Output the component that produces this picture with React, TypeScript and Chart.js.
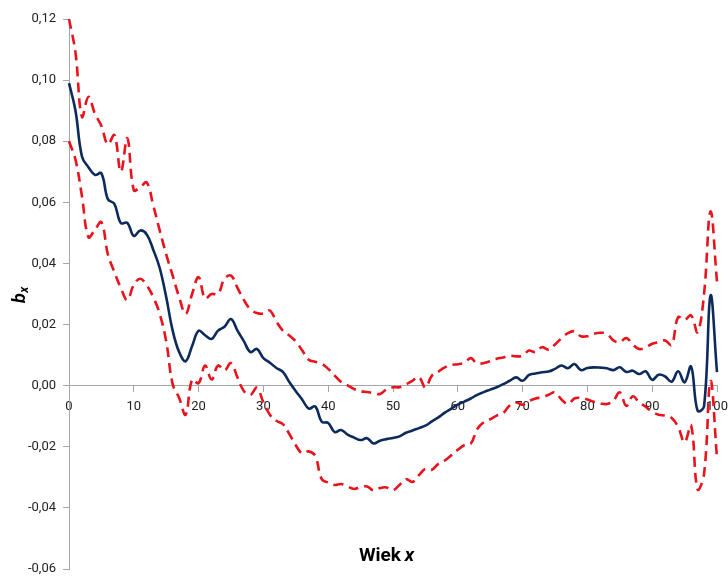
import { useEffect, useRef } from "react";
import { Chart, registerables } from "chart.js";

Chart.register(...registerables);

// Age x
const ages = [
  0, 1, 2, 3, 4, 5, 6, 7, 8, 9,
  10, 11, 12, 13, 14, 15, 16, 17, 18, 19,
  20, 21, 22, 23, 24, 25, 26, 27, 28, 29,
  30, 31, 32, 33, 34, 35, 36, 37, 38, 39,
  40, 41, 42, 43, 44, 45, 46, 47, 48, 49,
  50, 51, 52, 53, 54, 55, 56, 57, 58, 59,
  60, 61, 62, 63, 64, 65, 66, 67, 68, 69,
  70, 71, 72, 73, 74, 75, 76, 77, 78, 79,
  80, 81, 82, 83, 84, 85, 86, 87, 88, 89,
  90, 91, 92, 93, 94, 95, 96, 97, 98, 99,
  100,
];

// Estimated b_x
const bx = [
  0.099, 0.09, 0.075, 0.0715, 0.069, 0.0695, 0.061, 0.0595, 0.0532, 0.0533,
  0.049, 0.0508, 0.0495, 0.0445, 0.0385, 0.029, 0.018, 0.011, 0.008, 0.013,
  0.018, 0.0165, 0.0153, 0.018, 0.0193, 0.0218, 0.018, 0.0145, 0.011, 0.012,
  0.009, 0.0075, 0.0058, 0.0045, 0.0012, -0.0018, -0.0046, -0.0075, -0.0068, -0.0118,
  -0.0122, -0.0152, -0.0145, -0.016, -0.017, -0.0178, -0.0172, -0.0189, -0.018, -0.0175,
  -0.0171, -0.0166, -0.0154, -0.0147, -0.0139, -0.0131, -0.0117, -0.0104, -0.0088, -0.0075,
  -0.0062, -0.0052, -0.0042, -0.003, -0.0021, -0.0013, -0.0005, 0.0005, 0.0016, 0.0027,
  0.0016, 0.0035, 0.004, 0.0044, 0.0046, 0.0055, 0.0066, 0.0057, 0.0071, 0.0051,
  0.0058, 0.006, 0.0059, 0.0057, 0.0051, 0.006, 0.0045, 0.0049, 0.0038, 0.0047,
  0.0019, 0.0036, 0.003, 0.0013, 0.0047, 0.0011, 0.0063, -0.0082, -0.0068, 0.0295,
  0.0044,
];

// Upper bound of the interval
const bxUpper = [
  0.12, 0.109, 0.088, 0.0945, 0.089, 0.085, 0.079, 0.082, 0.07, 0.081,
  0.064, 0.065, 0.0665, 0.059, 0.0508, 0.043, 0.036, 0.029, 0.0235, 0.03,
  0.0355, 0.0285, 0.03, 0.03, 0.035, 0.036, 0.032, 0.028, 0.025, 0.0238,
  0.0236, 0.0246, 0.021, 0.018, 0.0164, 0.0145, 0.0115, 0.0085, 0.0078, 0.0072,
  0.0055, 0.0033, 0.0012, 0.0001, -0.0011, -0.0018, -0.0021, -0.0024, -0.0027, -0.0012,
  -0.0005, -0.0005, 0.0004, 0.0016, 0.0028, -0.0006, 0.0033, 0.0046, 0.006, 0.0068,
  0.007, 0.0075, 0.009, 0.0072, 0.0074, 0.008, 0.0088, 0.0092, 0.0098, 0.0096,
  0.0098, 0.0115, 0.011, 0.0126, 0.0118, 0.0135, 0.0155, 0.0172, 0.0178, 0.0162,
  0.0162, 0.017, 0.0173, 0.017, 0.0148, 0.0142, 0.0156, 0.0135, 0.012, 0.0125,
  0.0137, 0.0142, 0.0148, 0.0133, 0.0224, 0.0215, 0.023, 0.0175, 0.03, 0.057,
  0.034,
];

// Lower bound of the interval
const bxLower = [
  0.08, 0.074, 0.062, 0.0486, 0.051, 0.0535, 0.043, 0.0372, 0.032, 0.028,
  0.033, 0.035, 0.0328, 0.029, 0.0235, 0.0145, 0.0005, -0.004, -0.0095, 0.002,
  0.0008, 0.0066, 0.002, 0.0066, 0.005, 0.0074, 0.0027, -0.0018, -0.003, -0.0007,
  -0.0055, -0.0095, -0.0115, -0.0126, -0.0158, -0.0195, -0.0222, -0.0215, -0.023, -0.0306,
  -0.0317, -0.0325, -0.0322, -0.033, -0.0338, -0.0332, -0.033, -0.0343, -0.0335, -0.0333,
  -0.0342, -0.0325, -0.0306, -0.0315, -0.0293, -0.0272, -0.0275, -0.0256, -0.0245, -0.0228,
  -0.021, -0.0195, -0.019, -0.0142, -0.012, -0.011, -0.0098, -0.009, -0.0065, -0.0055,
  -0.0062, -0.005, -0.0042, -0.0038, -0.003, -0.0022, -0.0045, -0.006, -0.0042, -0.004,
  -0.0045, -0.0053, -0.0058, -0.006, -0.0049, -0.0022, -0.0066, -0.0035, -0.0055, -0.0069,
  -0.0085, -0.0095, -0.0098, -0.0106, -0.0135, -0.0185, -0.013, -0.0339, -0.029, 0.0015,
  -0.0236,
];

const yMin = -0.06;
const yMax = 0.12;
const yStep = 0.02;
const xMin = 0;
const xMax = 100;
const xStep = 10;

const xTitleMain = "Wiek ";
const xTitleVar = "x";
const yTitleMain = "b";
const yTitleSub = "x";

const FONT = 'Roboto, "Open Sans", Arial, sans-serif';
const NAVY = "#0c2a5b";
const RED = "#e8141d";
const AXIS = "#a6a6a6";

const toPoints = (vals: number[]) => ages.map((a, i) => ({ x: a, y: vals[i] }));

const titlesPlugin = {
  id: "axisTitles",
  afterDraw(chart: any) {
    const { ctx, chartArea } = chart;
    ctx.save();
    ctx.fillStyle = "#000";
    ctx.textBaseline = "alphabetic";
    ctx.textAlign = "left";

    // horizontal axis title
    ctx.font = `bold 19px ${FONT}`;
    const w1 = ctx.measureText(xTitleMain).width;
    ctx.font = `italic bold 19px ${FONT}`;
    const w2 = ctx.measureText(xTitleVar).width;
    const cx = (chartArea.left + chartArea.right) / 2 - 6;
    const by = chartArea.bottom - 8;
    const sx = cx - (w1 + w2) / 2;
    ctx.font = `bold 19px ${FONT}`;
    ctx.fillText(xTitleMain, sx, by);
    ctx.font = `italic bold 19px ${FONT}`;
    ctx.fillText(xTitleVar, sx + w1 - 1, by);

    // vertical axis title, rotated
    ctx.translate(25, (chartArea.top + chartArea.bottom) / 2 + 9);
    ctx.rotate(-Math.PI / 2);
    ctx.font = `italic bold 18px ${FONT}`;
    const bw = ctx.measureText(yTitleMain).width;
    ctx.fillText(yTitleMain, 0, 0);
    ctx.font = `italic bold 12px ${FONT}`;
    ctx.fillText(yTitleSub, bw + 0.5, 3);
    ctx.restore();
  },
};

export default function App() {
  const canvasRef = useRef<HTMLCanvasElement | null>(null);

  useEffect(() => {
    document.body.style.margin = "0";
    const canvas = canvasRef.current;
    if (!canvas) return;

    const chart = new Chart(canvas, {
      type: "line",
      data: {
        datasets: [
          {
            label: "bx",
            data: toPoints(bx),
            borderColor: NAVY,
            borderWidth: 2.6,
            pointRadius: 0,
            tension: 0.4,
            fill: false,
          },
          {
            label: "upper",
            data: toPoints(bxUpper),
            borderColor: RED,
            borderWidth: 2.6,
            borderDash: [10, 6],
            pointRadius: 0,
            tension: 0.4,
            fill: false,
          },
          {
            label: "lower",
            data: toPoints(bxLower),
            borderColor: RED,
            borderWidth: 2.6,
            borderDash: [10, 6],
            pointRadius: 0,
            tension: 0.4,
            fill: false,
          },
        ],
      },
      options: {
        animation: false,
        responsive: true,
        maintainAspectRatio: false,
        clip: false,
        layout: { padding: { left: 0, top: 19, right: 11, bottom: 9 } },
        plugins: {
          legend: { display: false },
          tooltip: { enabled: false },
          title: { display: false },
        },
        scales: {
          x: {
            type: "linear",
            position: { y: 0 },
            min: xMin,
            max: xMax,
            afterFit: (scale: any) => {
              scale.paddingLeft = 0;
              scale.paddingRight = 0;
              scale.paddingTop = 0;
              scale.paddingBottom = 0;
            },
            ticks: {
              stepSize: xStep,
              color: "#222",
              font: { family: FONT, size: 13 },
              padding: 7,
              maxRotation: 0,
            },
            grid: {
              display: true,
              drawOnChartArea: false,
              drawTicks: true,
              tickLength: 6,
              color: AXIS,
            },
            border: { display: true, color: AXIS, width: 1 },
          },
          y: {
            type: "linear",
            position: "left",
            min: yMin,
            max: yMax,
            afterFit: (scale: any) => {
              scale.width = 69;
              scale.paddingTop = 0;
              scale.paddingBottom = 0;
              scale.paddingLeft = 0;
              scale.paddingRight = 0;
            },
            ticks: {
              stepSize: yStep,
              color: "#222",
              font: { family: FONT, size: 13 },
              padding: 7,
              callback: (v: any) => Number(v).toFixed(2).replace(".", ","),
            },
            grid: {
              display: true,
              drawOnChartArea: false,
              drawTicks: true,
              tickLength: 6,
              color: AXIS,
            },
            border: { display: true, color: AXIS, width: 1 },
          },
        },
      },
      plugins: [titlesPlugin],
    });

    return () => chart.destroy();
  }, []);

  return (
    <div style={{ width: 728, height: 578, position: "relative" }}>
      <canvas ref={canvasRef} />
    </div>
  );
}
